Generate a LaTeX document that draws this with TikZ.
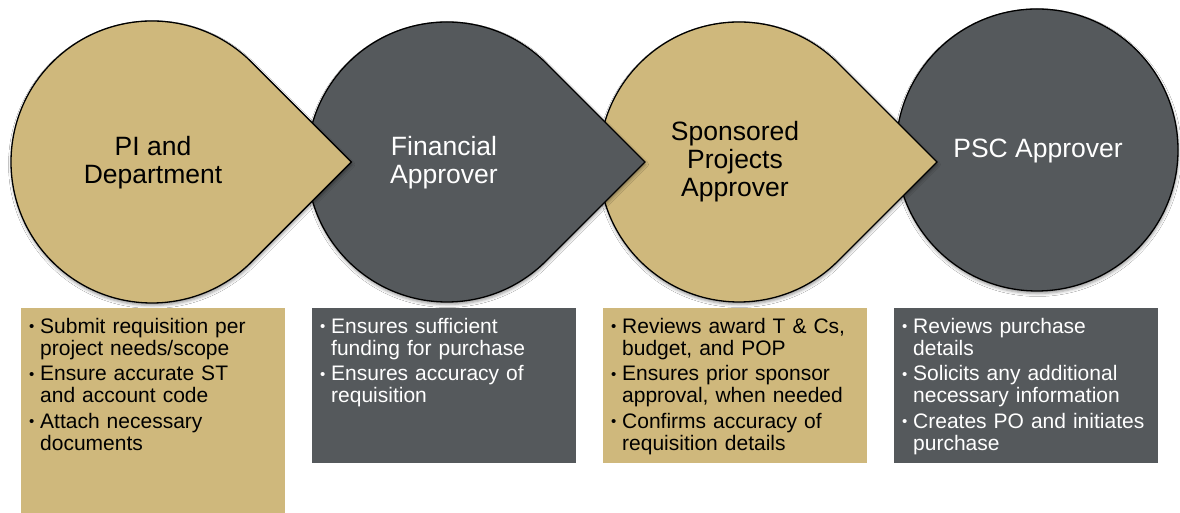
\documentclass[tikz,border=0pt]{standalone}
\usepackage{fontspec}
\setmainfont{Liberation Sans}
\usetikzlibrary{shadows.blur}
\definecolor{gold}{HTML}{CFB87C}
\definecolor{slate}{HTML}{55595C}
\newcommand{\bitem}[1]{\par\hangindent=11pt\hangafter=1\noindent\strut\makebox[11pt][l]{\raisebox{1.5pt}{\fontsize{15}{15}\selectfont •}}#1\par\vspace{3.5pt}}
\newcommand{\tdrop}[4]{%
  \path[shp, fill=#4] ({#1+1.4142*#3}, #2) -- ++({-0.7071*#3}, {0.7071*#3})
    arc[start angle=45, end angle=315, radius=#3pt] -- cycle;}
\begin{document}
\begin{tikzpicture}[x=1pt,y=1pt,
  shp/.style={draw=black, line width=1.3pt,
    blur shadow={shadow xshift=0.5pt, shadow yshift=-2.5pt, shadow blur radius=3pt, shadow opacity=40}},
  lbl/.style={font=\fontsize{26.5}{28}\selectfont, align=center, inner sep=0pt},
  btxt/.style={font=\fontsize{21}{22}\selectfont, anchor=north west, inner sep=0pt,
    text width=252pt, align=left}]
\useasboundingbox[fill=white] (0,0) rectangle (1180,513);
% shapes, right to left so each tip lies on top of its neighbour
\path[shp, fill=slate] (1037,363) circle[radius=141pt];
\tdrop{739}{351}{140}{gold}
\tdrop{447}{351}{140}{slate}
\tdrop{152}{351}{141}{gold}
% titles
\node[lbl] (pi) at (153,350) {PI and\\Department};
\node[lbl, text=white] (fin) at (444,350) {Financial\\Approver};
\node[lbl] (spa) at (735,351) {Sponsored\\Projects\\Approver};
\node[lbl, text=white] (psc) at (1038,362) {PSC Approver};
% boxes
\fill[gold] (21,205) rectangle (285,0);
\fill[slate] (312,205) rectangle (576,50);
\fill[gold] (603,205) rectangle (867,50);
\fill[slate] (894,205) rectangle (1158,50);
\node[btxt] (t1) at (29,202) {%
  \bitem{Submit requisition per\newline project needs/scope}%
  \bitem{Ensure accurate ST\newline and account code}%
  \bitem{Attach necessary\newline documents}};
\node[btxt, text=white] (t2) at (320,202) {%
  \bitem{Ensures sufficient\newline funding for purchase}%
  \bitem{Ensures accuracy of\newline requisition}};
\node[btxt] (t3) at (611,202) {%
  \bitem{Reviews award T \& Cs,\newline budget, and POP}%
  \bitem{Ensures prior sponsor\newline approval, when needed}%
  \bitem{Confirms accuracy of\newline requisition details}};
\node[btxt, text=white] (t4) at (902,202) {%
  \bitem{Reviews purchase\newline details}%
  \bitem{Solicits any additional\newline necessary information}%
  \bitem{Creates PO and initiates\newline purchase}};
\end{tikzpicture}
\end{document}
